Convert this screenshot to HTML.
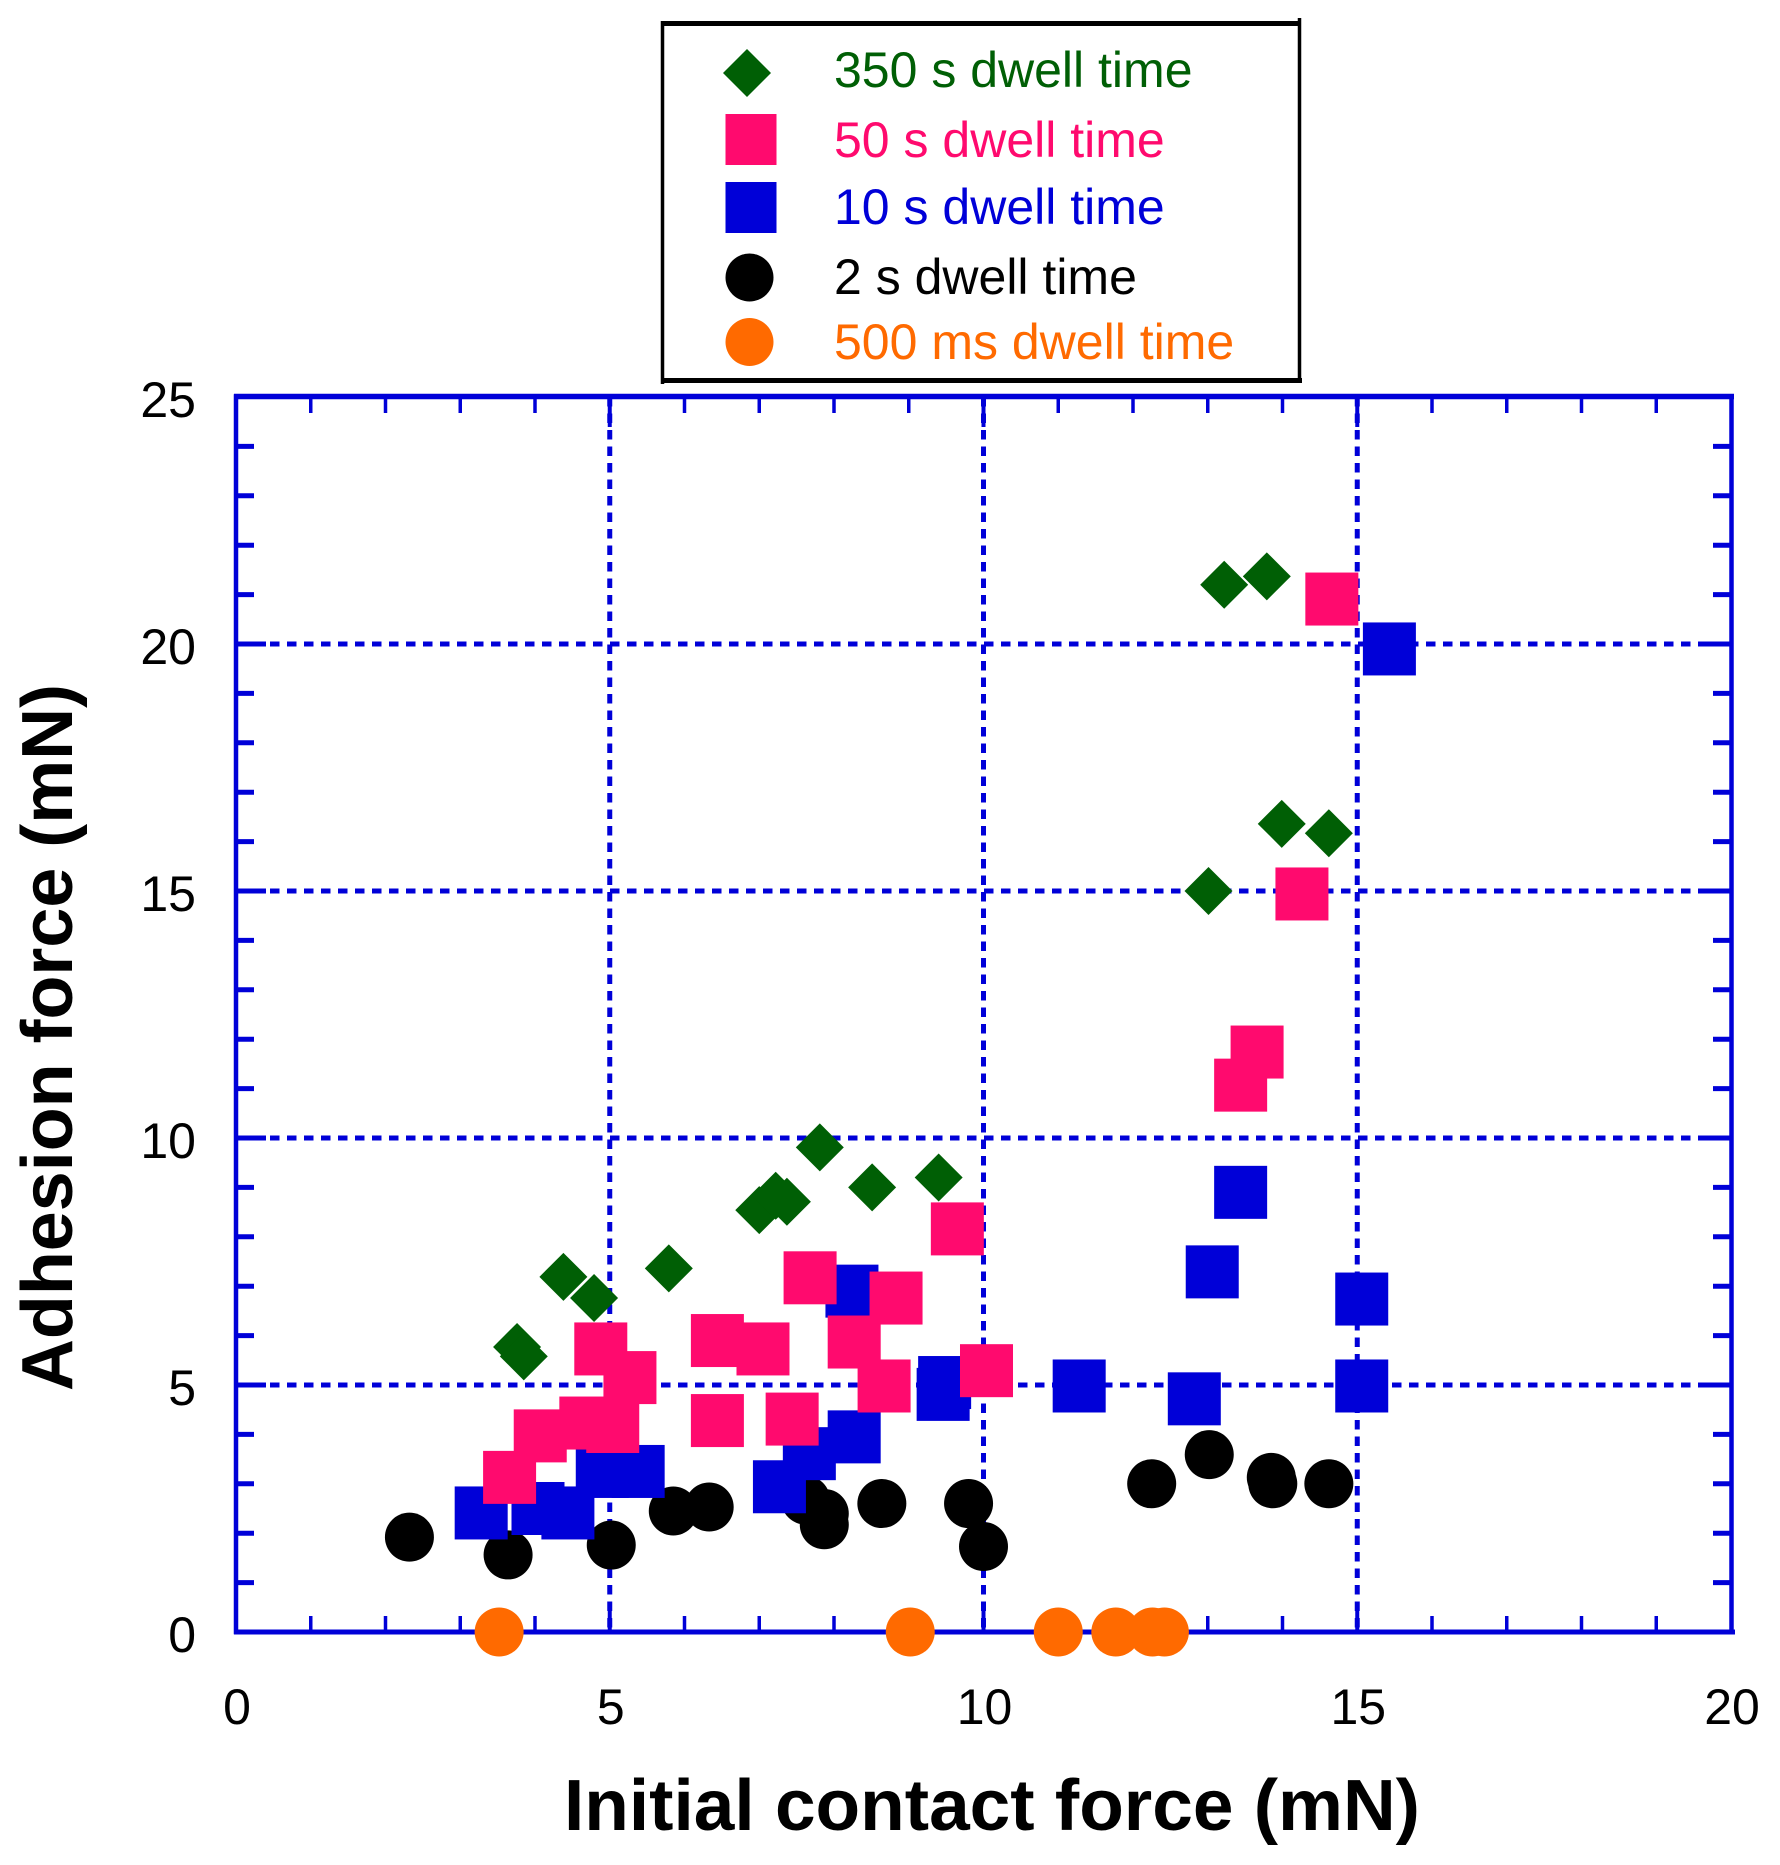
<!DOCTYPE html>
<html>
<head>
<meta charset="utf-8">
<title>Adhesion force vs initial contact force</title>
<style>
html,body{margin:0;padding:0;background:#fff;}
svg{display:block;}
text{font-family:"Liberation Sans",Arial,sans-serif;}
</style>
</head>
<body>
<svg id="chart" xmlns="http://www.w3.org/2000/svg" width="1780" height="1865" viewBox="0 0 1780 1865">
  <rect x="0" y="0" width="1780" height="1865" fill="#ffffff"/>
  <g id="grid"></g>
  <g id="ticks"></g>
  <g id="frame">
    <rect x="236" y="396.5" width="1495.5" height="1235.5" fill="none" stroke="#0000d8" stroke-width="4.5"/>
    <line x1="234" y1="396.5" x2="1734" y2="396.5" stroke="#0000d8" stroke-width="5.5"/>
    <line x1="234" y1="1632" x2="1735" y2="1632" stroke="#0000d8" stroke-width="5"/>
  </g>
  <g id="tick-labels"></g>
  <g id="marks"></g>
  <text x="564" y="1830" font-size="72" font-weight="bold" fill="#000" textLength="856" lengthAdjust="spacingAndGlyphs">Initial contact force (mN)</text>
  <text transform="translate(72,1391) rotate(-90)" font-size="72" font-weight="bold" fill="#000" textLength="707" lengthAdjust="spacingAndGlyphs">Adhesion force (mN)</text>
  <g>
    <rect x="662" y="23" width="639" height="358" fill="#ffffff"/>
    <line x1="661" y1="23.5" x2="1300" y2="23.5" stroke="#000" stroke-width="5"/>
    <line x1="661" y1="380.5" x2="1302" y2="380.5" stroke="#000" stroke-width="5"/>
    <line x1="662.5" y1="21" x2="662.5" y2="384" stroke="#000" stroke-width="3.5"/>
    <line x1="1299.5" y1="18" x2="1299.5" y2="383" stroke="#000" stroke-width="3.5"/>
    <g>
      <polygon points="747,49 771,73 747,97 723,73" fill="#005f05"/>
      <text x="834" y="87" font-size="50" fill="#005f05">350 s dwell time</text>
    </g>
    <g>
      <rect x="725.5" y="114" width="51" height="51" fill="#ff0a6e"/>
      <text x="834" y="157" font-size="50" fill="#ff0a6e">50 s dwell time</text>
    </g>
    <g>
      <rect x="725.5" y="182" width="51" height="51" fill="#0000d8"/>
      <text x="834" y="224" font-size="50" fill="#0000d8">10 s dwell time</text>
    </g>
    <g>
      <circle cx="749.5" cy="277.5" r="24" fill="#000000"/>
      <text x="834" y="294" font-size="50" fill="#000000">2 s dwell time</text>
    </g>
    <g>
      <circle cx="749.5" cy="342" r="24" fill="#ff6a00"/>
      <text x="834" y="359" font-size="50" fill="#ff6a00">500 ms dwell time</text>
    </g>
  </g>
</svg>
<script>
var xTickLabels = [0, 5, 10, 15, 20];
var yTickLabels = [0, 5, 10, 15, 20, 25];
var xMinorTicks = [1, 2, 3, 4, 6, 7, 8, 9, 11, 12, 13, 14, 16, 17, 18, 19];
var yMinorTicks = [1, 2, 3, 4, 6, 7, 8, 9, 11, 12, 13, 14, 16, 17, 18, 19, 21, 22, 23, 24];

var x500ms = [3.5, 9.0, 10.98, 11.75, 12.24, 12.4];
var y500ms = [0, 0, 0, 0, 0, 0];

var x2s = [2.3, 3.62, 5.0, 5.83, 6.31, 7.6, 7.85, 7.85, 8.62, 9.78, 9.98, 12.23, 13.0, 13.83, 13.85, 14.6];
var y2s = [1.92, 1.56, 1.76, 2.45, 2.53, 2.67, 2.4, 2.17, 2.6, 2.6, 1.73, 3.0, 3.59, 3.13, 3.0, 3.0];

var x10s = [15.41, 13.42, 13.04, 15.04, 15.04, 12.8, 11.26, 9.44, 9.46, 8.22, 8.25, 7.65, 7.25, 5.36, 4.88, 4.42, 4.02, 3.26];
var y10s = [19.9, 8.9, 7.29, 6.74, 4.98, 4.72, 4.98, 4.81, 5.05, 6.9, 3.95, 3.61, 2.94, 3.25, 3.25, 2.41, 2.5, 2.41];

var x50s = [14.64, 14.24, 13.64, 13.42, 9.63, 7.66, 8.81, 6.42, 7.03, 8.25, 4.86, 5.25, 8.65, 10.02, 6.42, 7.42, 4.05, 4.66, 5.02, 3.64];
var y50s = [20.91, 14.94, 11.74, 11.07, 8.16, 7.17, 6.76, 5.9, 5.73, 5.87, 5.73, 5.15, 4.98, 5.29, 4.28, 4.31, 3.97, 4.23, 4.16, 3.13];

var x350s = [13.2, 13.77, 13.97, 14.6, 12.99, 7.79, 8.49, 9.38, 6.98, 7.2, 7.35, 5.77, 4.36, 4.77, 3.74, 3.83];
var y350s = [21.2, 21.37, 16.36, 16.17, 15.0, 9.81, 9.0, 9.2, 8.54, 8.83, 8.71, 7.36, 7.19, 6.76, 5.77, 5.58];

var NS = 'http://www.w3.org/2000/svg';
var AXIS_BLUE = '#0000d8';

function sx(v) { return 236 + v * (1731 - 236) / 20; }
function sy(v) { return 1632 - v * (1632 - 397) / 25; }
function markX(v) { return sx(v) + 1.5; }

function make(tag, attrs, parent) {
  var el = document.createElementNS(NS, tag);
  for (var k in attrs) { el.setAttribute(k, attrs[k]); }
  parent.appendChild(el);
  return el;
}

var gridG = document.getElementById('grid');
var ticksG = document.getElementById('ticks');
var labelsG = document.getElementById('tick-labels');
var marksG = document.getElementById('marks');

xTickLabels.forEach(function (t) {
  var px = sx(t);
  if (t > 0 && t < 20) {
    var g = make('line', {x1: px, y1: 397, x2: px, y2: 1632, stroke: AXIS_BLUE, 'stroke-width': 5, 'stroke-dasharray': '9.5 7'}, gridG);
    
    
    var a = make('line', {x1: px, y1: 397, x2: px, y2: 427, stroke: AXIS_BLUE, 'stroke-width': 4}, ticksG);
    
    
    var b = make('line', {x1: px, y1: 1602, x2: px, y2: 1632, stroke: AXIS_BLUE, 'stroke-width': 4}, ticksG);
    
    
  }
  var lab = make('text', {x: px + 1, y: 1724, 'font-size': 50, 'text-anchor': 'middle', fill: '#000'}, labelsG);
  
  
  lab.textContent = t;
});

yTickLabels.forEach(function (t) {
  var py = sy(t);
  if (t > 0 && t < 25) {
    var g = make('line', {x1: 236, y1: py, x2: 1731, y2: py, stroke: AXIS_BLUE, 'stroke-width': 5, 'stroke-dasharray': '9.5 7.5'}, gridG);
    
    
    var a = make('line', {x1: 236, y1: py, x2: 266, y2: py, stroke: AXIS_BLUE, 'stroke-width': 5}, ticksG);
    
    
    var b = make('line', {x1: 1700, y1: py, x2: 1731, y2: py, stroke: AXIS_BLUE, 'stroke-width': 5}, ticksG);
    
    
  }
  var lab = make('text', {x: 196, y: py + 20, 'font-size': 50, 'text-anchor': 'end', fill: '#000'}, labelsG);
  
  
  lab.textContent = t;
});

xMinorTicks.forEach(function (t) {
  var px = sx(t);
  var a = make('line', {x1: px, y1: 397, x2: px, y2: 413, stroke: AXIS_BLUE, 'stroke-width': 3.5}, ticksG);
  
  
  var b = make('line', {x1: px, y1: 1616, x2: px, y2: 1632, stroke: AXIS_BLUE, 'stroke-width': 3.5}, ticksG);
  
  
});

yMinorTicks.forEach(function (t) {
  var py = sy(t);
  var a = make('line', {x1: 236, y1: py, x2: 254, y2: py, stroke: AXIS_BLUE, 'stroke-width': 5}, ticksG);
  
  
  var b = make('line', {x1: 1713, y1: py, x2: 1731, y2: py, stroke: AXIS_BLUE, 'stroke-width': 5}, ticksG);
  
  
});

function drawCircles(xs, ys, color, name) {
  xs.forEach(function (v, i) {
    var el = make('circle', {cx: markX(v), cy: sy(ys[i]), r: 24.5, fill: color}, marksG);
    
    
  });
}
function drawSquares(xs, ys, color, name) {
  xs.forEach(function (v, i) {
    var el = make('rect', {x: markX(v) - 26.5, y: sy(ys[i]) - 26.5, width: 53, height: 53, fill: color}, marksG);
    
    
  });
}
function drawDiamonds(xs, ys, color, name) {
  xs.forEach(function (v, i) {
    var cx = markX(v), cy = sy(ys[i]), r = 24;
    var pts = [cx, cy - r, cx + r, cy, cx, cy + r, cx - r, cy].join(' ');
    var el = make('polygon', {points: pts, fill: color}, marksG);
    
    
  });
}

drawCircles(x500ms, y500ms, '#ff6a00', 'point-500ms');
drawCircles(x2s, y2s, '#000000', 'point-2s');
drawSquares(x10s, y10s, '#0000d8', 'point-10s');
drawSquares(x50s, y50s, '#ff0a6e', 'point-50s');
drawDiamonds(x350s, y350s, '#005f05', 'point-350s');
</script>
</body>
</html>
